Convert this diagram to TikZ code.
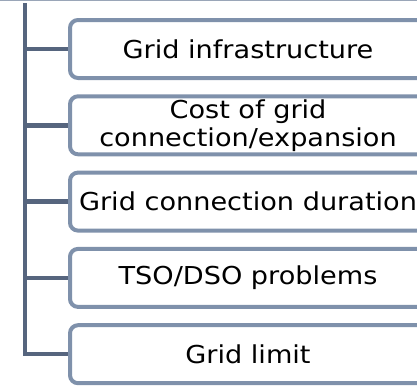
\documentclass[tikz,border=0pt]{standalone}
\usepackage{fontspec}
\setmainfont{DejaVu Sans}[FakeStretch=1.1]
\definecolor{boxline}{HTML}{7F91AB}
\definecolor{trunkline}{HTML}{56657E}
\definecolor{rule}{HTML}{9AA6B8}

\begin{document}
\begin{tikzpicture}[x=0.75pt,y=-0.75pt,
    issue/.style={draw=boxline,line width=3pt,rounded corners=6pt,fill=white,
      minimum width=267pt,minimum height=43.5pt,align=center,
      font=\fontsize{18.5}{21}\selectfont,inner sep=0pt},
    trunk/.style={draw=trunkline,line width=3.4pt,line join=miter}]
  \useasboundingbox (0,0) rectangle (417,386);
  \draw[rule,line width=1.2pt] (0,0.5) -- (417,0.5);
  \coordinate (root) at (25,3);
  \node[issue] (infra) at (248,49) {Grid infrastructure};
  \node[issue] (cost) at (248,125.3) {Cost of grid\\connection/expansion};
  \node[issue] (dur) at (248,201.6) {Grid connection duration};
  \node[issue] (tso) at (248,277.9) {TSO/DSO problems};
  \node[issue] (limit) at (248,354.2) {Grid limit};
  \draw[trunk] (root) |- (limit.west);
  \draw[trunk] (root |- infra) -- (infra.west);
  \draw[trunk] (root |- cost) -- (cost.west);
  \draw[trunk] (root |- dur) -- (dur.west);
  \draw[trunk] (root |- tso) -- (tso.west);
\end{tikzpicture}
\end{document}
